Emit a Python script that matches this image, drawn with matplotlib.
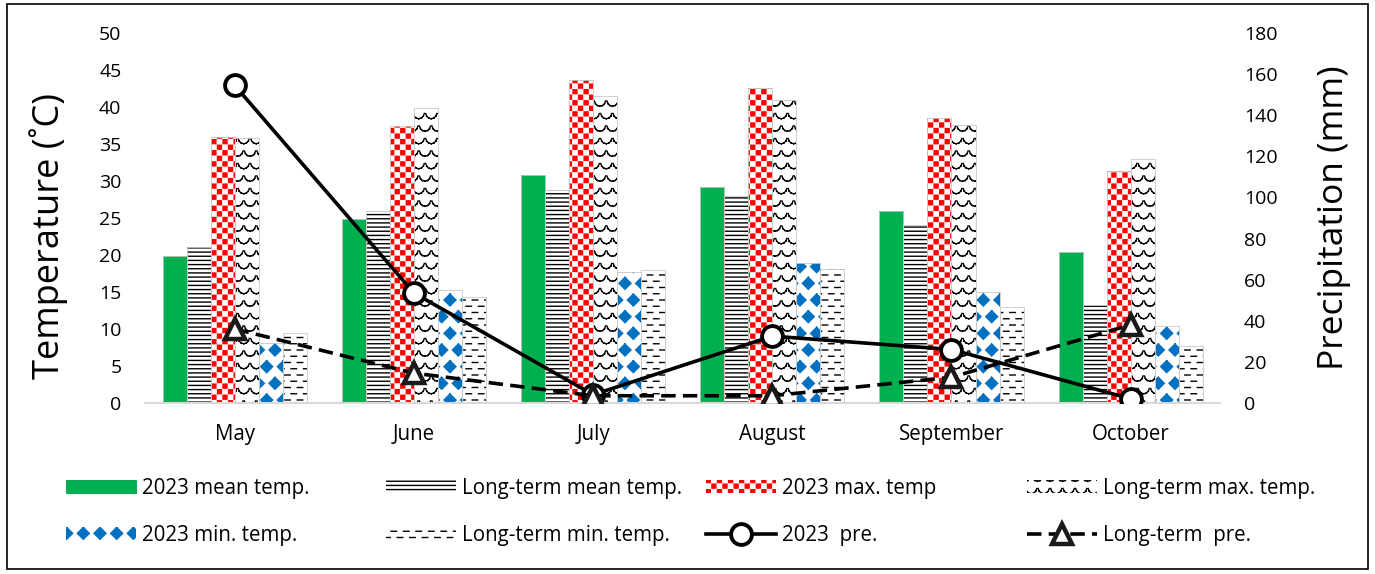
import matplotlib
matplotlib.use('Agg')
import matplotlib.pyplot as plt
import matplotlib.hatch as mhatch
from matplotlib.path import Path
from matplotlib.patches import Rectangle
import numpy as np

# ---- data ----
months = ['May', 'June', 'July', 'August', 'September', 'October']
mean_2023 = [19.8, 24.8, 30.8, 29.2, 25.9, 20.4]
mean_lt = [21.1, 25.9, 28.8, 27.9, 24.0, 13.2]
max_2023 = [36.0, 37.4, 43.6, 42.5, 38.5, 31.4]
max_lt = [35.8, 39.9, 41.5, 40.9, 37.6, 33.0]
min_2023 = [8.1, 15.3, 17.7, 18.9, 15.0, 10.4]
min_lt = [9.5, 14.3, 18.0, 18.1, 12.9, 7.7]
pre_2023 = [154.5, 53.5, 4.0, 32.5, 26.0, 2.0]
pre_lt = [36.0, 14.5, 3.5, 3.5, 12.5, 38.0]

temp_ticks = list(range(0, 51, 5))
pre_ticks = list(range(0, 181, 20))


# ---- custom hatch patterns (checker, diamonds, scales, dashes) ----
MOVETO, LINETO, CLOSE = Path.MOVETO, Path.LINETO, Path.CLOSEPOLY


class CheckerHatch(mhatch.HatchPatternBase):
    # '*' -> filled checker board
    inset = 0.008

    def __init__(self, hatch, density):
        self.n = hatch.count('*') * density
        self.num_vertices = (self.n * self.n // 2) * 5 if self.n else 0

    def set_vertices_and_codes(self, vertices, codes):
        s = 1.0 / self.n
        e = self.inset
        k = 0
        for i in range(self.n):
            for j in range(self.n):
                if (i + j) % 2:
                    continue
                x0, y0, x1, y1 = i * s + e, j * s + e, (i + 1) * s - e, (j + 1) * s - e
                vertices[k:k + 5] = [(x0, y0), (x1, y0), (x1, y1), (x0, y1), (x0, y0)]
                codes[k:k + 5] = [MOVETO, LINETO, LINETO, LINETO, CLOSE]
                k += 5


class DiamondHatch(mhatch.Shapes):
    # 'O' -> filled diamonds
    size = 0.36
    filled = True

    def __init__(self, hatch, density):
        self.num_rows = hatch.count('O') * density
        verts = Path.unit_regular_polygon(4).vertices
        self.shape_vertices = verts
        self.shape_codes = np.full(len(verts), LINETO, dtype=Path.code_type)
        self.shape_codes[0] = MOVETO
        super().__init__(hatch, density)


class ScaleHatch(mhatch.HatchPatternBase):
    # 'o' -> rows of staggered arcs (fish scales), drawn as loose segments
    nseg = 6

    def __init__(self, hatch, density):
        self.n = int(round(hatch.count('o') * density * 4 / 3))
        if self.n % 2:
            self.n += 1
        self.cells = [(i, j) for j in range(self.n + 1) for i in range(self.n + 1)]
        self.num_vertices = len(self.cells) * self.nseg * 2 if self.n else 0

    def set_vertices_and_codes(self, vertices, codes):
        d = 1.0 / self.n
        t = np.linspace(np.pi * 1.05, np.pi * 1.95, self.nseg + 1)
        k = 0
        for i, j in self.cells:
            cx = i * d + (d / 2 if j % 2 else 0)
            cy = j * d
            xs = cx + 0.45 * d * np.cos(t)
            ys = cy + 0.5 * d * np.sin(t)
            for m in range(self.nseg):
                vertices[k] = (xs[m], ys[m])
                vertices[k + 1] = (xs[m + 1], ys[m + 1])
                codes[k] = MOVETO
                codes[k + 1] = LINETO
                k += 2


class DashHatch(mhatch.HatchPatternBase):
    # '.' -> staggered short horizontal dashes
    def __init__(self, hatch, density):
        c = hatch.count('.')
        self.ncol = int(round(c * density * 4 / 3))
        self.nrow = self.ncol * 2
        self.num_vertices = (self.ncol + 1) * (self.nrow + 1) * 2 if c else 0

    def set_vertices_and_codes(self, vertices, codes):
        dx = 1.0 / self.ncol
        dy = 1.0 / self.nrow
        k = 0
        for j in range(self.nrow + 1):
            for i in range(self.ncol + 1):
                cx = i * dx + (dx / 2 if j % 2 else 0)
                cy = j * dy
                vertices[k] = (cx - 0.22 * dx, cy)
                vertices[k + 1] = (cx + 0.22 * dx, cy)
                codes[k] = MOVETO
                codes[k + 1] = LINETO
                k += 2


mhatch._hatch_types[:] = [mhatch.HorizontalHatch, mhatch.VerticalHatch,
                          mhatch.NorthEastHatch, mhatch.SouthEastHatch,
                          CheckerHatch, DiamondHatch, ScaleHatch, DashHatch]

plt.rcParams['font.family'] = ['Open Sans', 'DejaVu Sans']
plt.rcParams['hatch.linewidth'] = 1.0

fig = plt.figure(figsize=(13.75, 5.74), dpi=100)
ax = fig.add_axes([0.1055, 0.298, 0.782, 0.6446])
ax2 = ax.twinx()

x = np.arange(len(months))
w = 0.134
bar_specs = [
    (mean_2023, '2023 mean temp.', dict(color='#00B050', edgecolor='#00A048', linewidth=0.6)),
    (mean_lt, 'Long-term mean temp.', dict(facecolor='white', edgecolor='black', hatch='----', linewidth=0)),
    (max_2023, '2023 max. temp', dict(facecolor='white', edgecolor='#FF0000', hatch='***', linewidth=0)),
    (max_lt, 'Long-term max. temp.', dict(facecolor='white', edgecolor='black', hatch='o', linewidth=0)),
    (min_2023, '2023 min. temp.', dict(facecolor='white', edgecolor='#0070C0', hatch='O', linewidth=0)),
    (min_lt, 'Long-term min. temp.', dict(facecolor='white', edgecolor='black', hatch='.', linewidth=0)),
]
bar_handles = []
for k, (vals, label, style) in enumerate(bar_specs):
    bars = ax.bar(x + (k - 2.5) * w, vals, width=w, label=label, zorder=2, **style)
    # light bevel outline
    ax.bar(x + (k - 2.5) * w, vals, width=w, fill=False, edgecolor='#c8c8c8',
           linewidth=0.6, zorder=3)
    bar_handles.append(bars)

ax.set_xlim(-0.5, len(months) - 0.5)
ax.set_ylim(0, 50)
ax.set_yticks(temp_ticks)
ax.set_xticks(x)
ax.set_xticklabels(months)
ax.tick_params(axis='both', length=0, labelsize=14)
ax.tick_params(axis='x', pad=15, labelsize=14.8)
ax.tick_params(axis='y', pad=17)
for s in ['top', 'left', 'right']:
    ax.spines[s].set_visible(False)
ax.spines['bottom'].set_color('#d9d9d9')
ax.spines['bottom'].set_linewidth(1.5)
ax.set_ylabel('Temperature (˚C)', fontsize=26)
ax.yaxis.set_label_coords(-0.072, 0.45)

l1, = ax2.plot(x, pre_2023, color='black', lw=2.6, marker='o', ms=15,
               mfc='white', mec='black', mew=2.8, label='2023  pre.', zorder=5)
l2, = ax2.plot(x, pre_lt, color='black', lw=2.6, ls=(0, (4.0, 2.0)), marker='^', ms=15,
               mfc='white', mec='#1a1a1a', mew=3.2, label='Long-term  pre.', zorder=5)
ax2.set_ylim(0, 180)
ax2.set_yticks(pre_ticks)
ax2.tick_params(axis='y', length=0, labelsize=14, pad=17)
for s in ax2.spines.values():
    s.set_visible(False)
ax2.set_ylabel('Precipitation (mm)', fontsize=25.5)
ax2.yaxis.set_label_coords(1.09, 0.5)

# legend: four columns placed like the original
columns = [
    [bar_handles[0], bar_handles[4]],
    [bar_handles[1], bar_handles[5]],
    [bar_handles[2], l1],
    [bar_handles[3], l2],
]
col_x = [66, 386, 706, 1027]
for hs, cx in zip(columns, col_x):
    fig.legend(handles=hs, loc='upper left', bbox_to_anchor=(cx / 1375, 1 - 478 / 574),
               frameon=False, fontsize=14.8, handlelength=3.4, handleheight=0.6,
               handletextpad=0.3, labelspacing=1.27, borderpad=0, borderaxespad=0,
               numpoints=1)

fig.patches.append(Rectangle((0.005, 0.008), 0.99, 0.985, transform=fig.transFigure,
                             fill=False, edgecolor='black', linewidth=1.2))

fig.savefig('out.png', dpi=100)
